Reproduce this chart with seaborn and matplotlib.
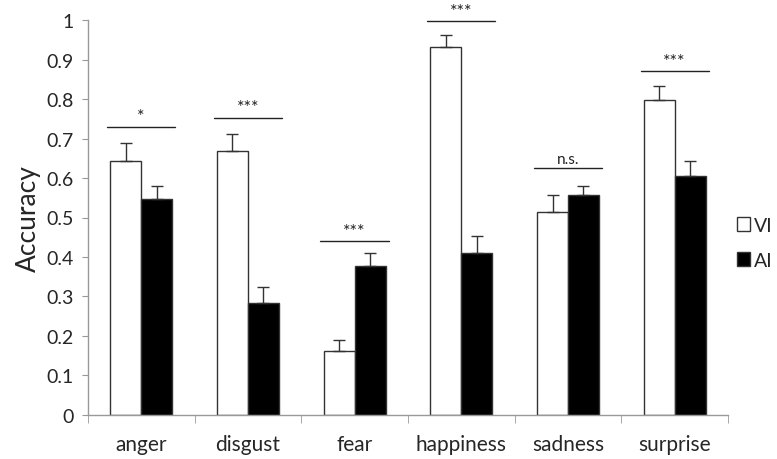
import pandas as pd
import matplotlib
matplotlib.use("Agg")
import matplotlib.pyplot as plt
import seaborn as sns
from matplotlib.patches import Patch

emotions = ["anger", "disgust", "fear", "happiness", "sadness", "surprise"]
vi_acc = [0.642, 0.668, 0.163, 0.933, 0.513, 0.797]
ai_acc = [0.548, 0.283, 0.377, 0.411, 0.556, 0.604]
vi_err = [0.048, 0.043, 0.027, 0.030, 0.043, 0.035]
ai_err = [0.032, 0.040, 0.033, 0.041, 0.024, 0.038]
sig_labels = ["*", "***", "***", "***", "n.s.", "***"]
sig_heights = [0.73, 0.753, 0.44, 0.997, 0.625, 0.87]

df = pd.DataFrame({
    "emotion": emotions * 2,
    "group": ["VI"] * 6 + ["AI"] * 6,
    "accuracy": vi_acc + ai_acc,
})

sns.set_style("white")
plt.rcParams["font.family"] = ["Lato", "DejaVu Sans"]

fig = plt.figure(figsize=(7.77, 4.6), dpi=100)
ax = fig.add_axes([0.113, 0.096, 0.824, 0.858])

sns.barplot(data=df, x="emotion", y="accuracy", hue="group", order=emotions,
            hue_order=["VI", "AI"], palette={"VI": "white", "AI": "black"},
            edgecolor="#333333", linewidth=1, width=0.58, errorbar=None,
            legend=False, ax=ax)

# error bars, upper side only
for cont, errs in zip(ax.containers, [vi_err, ai_err]):
    xs = [b.get_x() + b.get_width() / 2 for b in cont]
    ys = [b.get_height() for b in cont]
    ax.errorbar(xs, ys, yerr=[[0] * len(errs), errs], fmt="none",
                ecolor="#333333", elinewidth=1, capsize=4, capthick=1)

# significance lines
for i, (lab, h) in enumerate(zip(sig_labels, sig_heights)):
    ax.plot([i - 0.32, i + 0.32], [h, h], color="#222222", lw=1)
    ax.text(i, h + 0.006, lab, ha="center", va="bottom",
            fontsize=13 if "*" in lab else 11, color="#222222")

ax.set_ylim(0, 1)
ax.set_xlim(-0.5, 5.5)
ax.set_yticks([0, 0.1, 0.2, 0.3, 0.4, 0.5, 0.6, 0.7, 0.8, 0.9, 1])
ax.set_yticklabels(["0", "0.1", "0.2", "0.3", "0.4", "0.5", "0.6", "0.7",
                    "0.8", "0.9", "1"], fontsize=14)
ax.set_xticks(range(6))
ax.set_xticklabels(emotions, fontsize=15)
ax.set_xticks([i - 0.5 for i in range(7)], minor=True)
ax.tick_params(axis="x", which="major", length=0, pad=14)
ax.tick_params(axis="x", which="minor", length=6, color="#999999",
               direction="out", bottom=True)
ax.tick_params(axis="y", length=4, color="#999999", direction="out", left=True,
               pad=6)
ax.set_xlabel("")
ax.set_ylabel("Accuracy", fontsize=19, labelpad=4)

sns.despine(ax=ax)
for s in ["left", "bottom"]:
    ax.spines[s].set_color("#999999")
    ax.spines[s].set_linewidth(1)

handles = [Patch(facecolor="white", edgecolor="#333333", label="VI"),
           Patch(facecolor="black", edgecolor="#333333", label="AI")]
fig.legend(handles=handles, loc="center left", bbox_to_anchor=(0.948, 0.47),
           frameon=False, fontsize=14, handlelength=0.7, handleheight=0.7,
           handletextpad=0.2, labelspacing=0.9, borderpad=0,
           borderaxespad=0)

fig.savefig("out.png", dpi=100)
